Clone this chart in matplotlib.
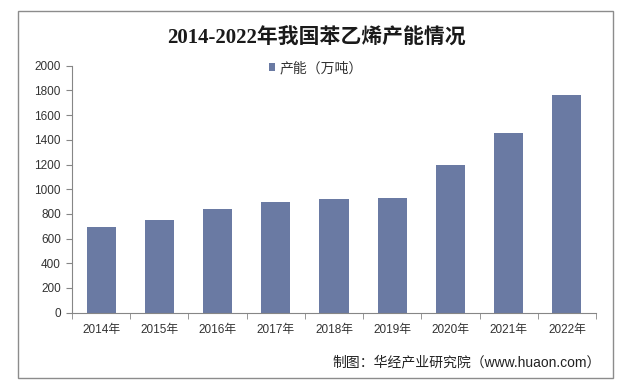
import matplotlib.pyplot as plt
from matplotlib.patches import Rectangle

plt.rcParams['font.family'] = ['Liberation Sans', 'Noto Sans CJK SC', 'DejaVu Sans']

years = ['2014年', '2015年', '2016年', '2017年', '2018年', '2019年', '2020年', '2021年', '2022年']
capacity = [695, 752, 841, 897, 922, 930, 1197, 1459, 1759]
yticks = [0, 200, 400, 600, 800, 1000, 1200, 1400, 1600, 1800, 2000]

bar_color = '#6a7aa3'
axis_color = '#868686'

fig = plt.figure(figsize=(6.22, 3.88), dpi=100)
ax = fig.add_axes([72 / 622, 1 - 312.7 / 388, (596 - 72) / 622, (312.7 - 65.7) / 388])

x = list(range(len(years)))
ax.bar(x, capacity, width=0.5, color=bar_color, label='产能（万吨）', zorder=2)

ax.set_xlim(-0.5, len(years) - 0.5)
ax.set_ylim(0, 2000)
ax.set_yticks(yticks)
ax.set_yticklabels([str(v) for v in yticks], fontsize=8.5, color='#333333')
ax.set_xticks(x)
ax.set_xticklabels(years, fontsize=8.5, color='#333333')
# category separators as minor ticks
ax.set_xticks([i - 0.5 for i in range(len(years) + 1)], minor=True)
ax.tick_params(axis='x', which='major', length=0, pad=8)
ax.tick_params(axis='x', which='minor', length=4, color=axis_color, direction='out')
ax.tick_params(axis='y', length=4, color=axis_color, pad=4)

for s in ['top', 'right']:
    ax.spines[s].set_visible(False)
ax.spines['left'].set_color(axis_color)
ax.spines['bottom'].set_color(axis_color)

ax.legend(loc='upper center', bbox_to_anchor=(0.465, 1.07), frameon=False,
          fontsize=10, handlelength=0.45, handleheight=0.45, handletextpad=0.3,
          labelcolor='#333333')

fig.text(0.508, 1 - 39 / 388, '2014-2022年我国苯乙烯产能情况', ha='center', va='center',
         fontsize=15, fontweight='bold', family=['Liberation Serif', 'Noto Sans CJK SC'],
         color='#1a1a1a')

fig.text(601 / 622, 1 - 362 / 388, '制图：华经产业研究院（www.huaon.com）', ha='right',
         va='center', fontsize=10, color='#222222')

# outer chart frame
fig.patches.append(Rectangle((18 / 622, 1 - 378 / 388), (613 - 18) / 622, (378 - 11) / 388,
                             transform=fig.transFigure, fill=False, edgecolor='#8c8c8c',
                             linewidth=1))

fig.savefig('out.png', dpi=100)
